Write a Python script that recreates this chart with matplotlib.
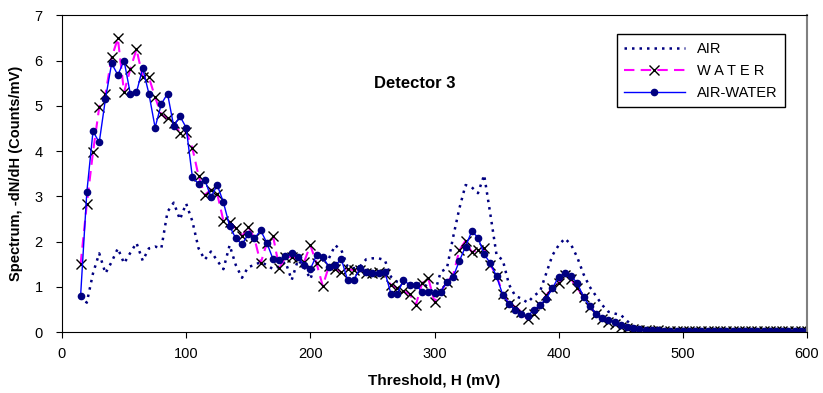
#!/usr/bin/env python3
"""
Detector 3 spectrum: AIR, WATER and AIR-WATER
"""

import matplotlib
matplotlib.use("Agg")
import matplotlib.pyplot as plt

plt.rcParams['font.family'] = ['Liberation Sans', 'DejaVu Sans']

# Threshold grid, mV (5 mV steps)
threshold = list(range(15, 605, 5))

air = [0.80, 0.65, 1.30, 1.74, 1.30, 1.55, 1.85, 1.52, 1.75, 1.97,
       1.58, 1.85, 1.89, 1.85, 2.66, 2.86, 2.49, 2.84, 2.45, 1.85,
       1.60, 1.78, 1.58, 1.39, 1.92, 1.48, 1.20, 1.44, 1.48, 1.55,
       1.48, 1.39, 1.45, 1.55, 1.15, 1.59, 1.45, 1.17, 1.55, 1.58,
       1.63, 1.92, 1.81, 1.45, 1.41, 1.45, 1.61, 1.63, 1.63, 1.59,
       1.22, 1.11, 1.07, 1.07, 1.07, 1.07, 1.00, 0.85, 1.33, 1.41,
       2.10, 2.73, 3.25, 3.20, 3.07, 3.47, 2.60, 1.70, 1.59, 1.05,
       0.80, 0.74, 0.65, 0.80, 0.90, 1.30, 1.70, 1.92, 2.07, 1.93,
       1.65, 1.28, 1.00, 0.80, 0.60, 0.45, 0.41, 0.38, 0.25, 0.12,
       0.06, 0.04, 0.04, 0.03, 0.03, 0.03, 0.02, 0.03, 0.02, 0.02,
       0.02, 0.02, 0.02, 0.02, 0.02, 0.02, 0.02, 0.02, 0.02, 0.02,
       0.02, 0.02, 0.02, 0.02, 0.02, 0.02, 0.02, 0.02]

water = [1.50, 2.83, 3.98, 4.97, 5.26, 6.07, 6.49, 5.30, 5.81, 6.25,
         5.64, 5.63, 5.19, 4.81, 4.72, 4.61, 4.41, 4.43, 4.07, 3.45,
         3.03, 3.15, 3.06, 2.46, 2.44, 2.29, 2.12, 2.33, 2.07, 1.52,
         1.97, 2.12, 1.41, 1.66, 1.66, 1.63, 1.55, 1.92, 1.52, 1.02,
         1.46, 1.40, 1.33, 1.39, 1.37, 1.37, 1.31, 1.31, 1.33, 1.28,
         1.04, 0.97, 0.90, 0.84, 0.60, 1.08, 1.19, 0.67, 0.89, 1.11,
         1.26, 1.81, 2.02, 1.77, 1.81, 1.85, 1.48, 1.25, 0.85, 0.63,
         0.56, 0.45, 0.28, 0.40, 0.60, 0.82, 0.97, 1.08, 1.26, 1.17,
         0.97, 0.78, 0.56, 0.41, 0.30, 0.23, 0.18, 0.12, 0.08, 0.06,
         0.05, 0.04, 0.03, 0.04, 0.02, 0.03, 0.03, 0.02, 0.03, 0.02,
         0.03, 0.02, 0.02, 0.03, 0.02, 0.02, 0.03, 0.02, 0.02, 0.02,
         0.02, 0.03, 0.02, 0.02, 0.02, 0.02, 0.02, 0.02]

air_water = [0.80, 3.09, 4.44, 4.19, 5.15, 5.94, 5.68, 6.00, 5.27, 5.30,
             5.83, 5.27, 4.52, 5.04, 5.27, 4.55, 4.77, 4.52, 3.43, 3.27,
             3.37, 2.98, 3.25, 2.87, 2.34, 2.07, 1.94, 2.16, 2.07, 2.25,
             1.97, 1.61, 1.59, 1.68, 1.74, 1.66, 1.48, 1.39, 1.70, 1.66,
             1.44, 1.48, 1.61, 1.15, 1.15, 1.41, 1.33, 1.31, 1.31, 1.33,
             0.84, 0.84, 1.15, 1.04, 1.04, 0.89, 0.89, 0.87, 0.89, 1.11,
             1.22, 1.57, 1.89, 2.23, 2.09, 1.72, 1.52, 1.23, 0.82, 0.63,
             0.49, 0.40, 0.35, 0.49, 0.60, 0.74, 0.97, 1.22, 1.30, 1.24,
             1.08, 0.78, 0.57, 0.41, 0.32, 0.27, 0.23, 0.15, 0.12, 0.08,
             0.06, 0.05, 0.04, 0.04, 0.03, 0.03, 0.03, 0.03, 0.02, 0.03,
             0.02, 0.02, 0.03, 0.02, 0.02, 0.02, 0.02, 0.02, 0.02, 0.02,
             0.02, 0.02, 0.02, 0.02, 0.02, 0.02, 0.02, 0.02]

fig = plt.figure(figsize=(8.23, 3.93), dpi=100)
ax = fig.add_axes([0.0753, 0.155, 0.9053, 0.806])

ax.plot(threshold, air, color='#000080', linestyle=(0, (1, 2)),
        linewidth=1.8, label='AIR')
ax.plot(threshold, water, color='#FF00FF', linestyle=(0, (5, 3)),
        linewidth=1.5, marker='x', markersize=7, markeredgecolor='black',
        markeredgewidth=1, label='W A T E R')
ax.plot(threshold, air_water, color='#0000FF', linestyle='-', linewidth=1,
        marker='o', markersize=4.5, markerfacecolor='#000080',
        markeredgecolor='#000080', label='AIR-WATER')

ax.set_xlim(0, 600)
ax.set_ylim(0, 7)
ax.set_xticks(range(0, 700, 100))
ax.set_yticks(range(0, 8))
ax.tick_params(direction='out', length=4, labelsize=10.5, colors='black')
ax.tick_params(axis='x', pad=7)
ax.tick_params(axis='y', pad=10)

for side in ['left', 'bottom', 'top']:
    ax.spines[side].set_color('black')
ax.spines['right'].set_color('#808080')
ax.spines['right'].set_linewidth(1.5)

ax.set_xlabel('Threshold, H (mV)', fontsize=11, fontweight='bold', labelpad=9)
ax.set_ylabel('Spectrum, -dN/dH (Counts/mV)', fontsize=10.5, fontweight='bold',
              labelpad=8)

ax.text(284, 5.5, 'Detector 3', fontsize=12, fontweight='bold',
        ha='center', va='center')

leg = ax.legend(loc='upper right', bbox_to_anchor=(0.970, 0.940),
                borderaxespad=0, fancybox=False, edgecolor='black',
                handlelength=4.2, fontsize=10.5, framealpha=1,
                labelspacing=0.55, borderpad=0.5)
leg.get_frame().set_linewidth(1)

plt.savefig('out.png', dpi=100)
